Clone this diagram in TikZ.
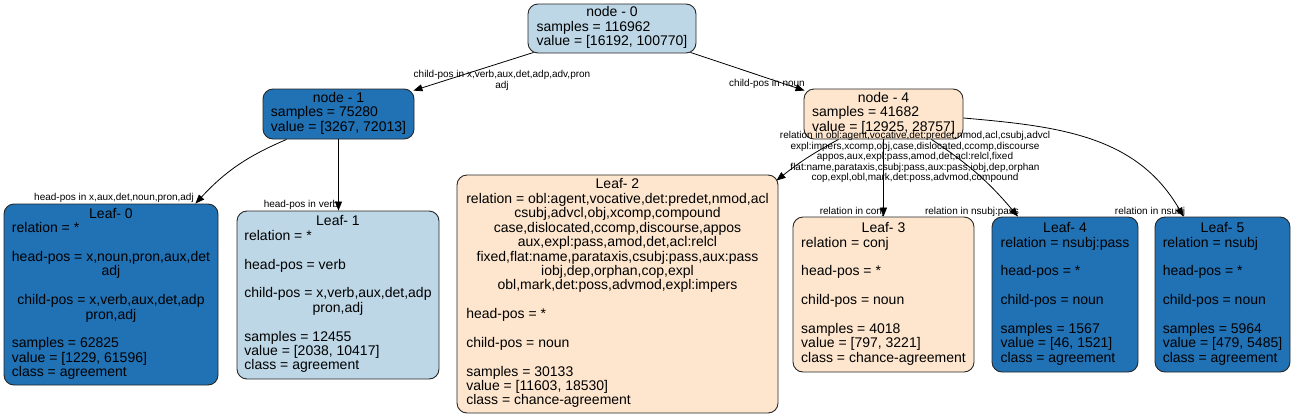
\documentclass[tikz,border=0pt]{standalone}
\usepackage{fontspec}
\setmainfont{Liberation Sans}
\usetikzlibrary{calc,shapes,arrows.meta}
\definecolor{dblue}{RGB}{33,113,181}
\definecolor{lblue}{RGB}{189,215,231}
\definecolor{lorange}{RGB}{254,230,206}
\newcommand{\centred}[1]{\multicolumn{1}{@{}c@{}}{#1}}

\begin{document}
\begin{tikzpicture}[x=1pt,y=-1pt,
	tnode/.style={rectangle, rounded corners=10pt, draw=black!85, line width=0.9pt, inner sep=0, font=\fontsize{14}{14.3}\selectfont},
	dnode/.style={tnode, fill=dblue},
	lnode/.style={tnode, fill=lblue},
	onode/.style={tnode, fill=lorange},
	elab/.style={inner sep=0, font=\fontsize{10}{10.5}\selectfont, align=center},
	elink/.style={black, line width=0.8pt, -{Triangle[length=9pt,width=7pt]}}]

		\useasboundingbox (0,0) rectangle (1295,418);

		%split nodes
		\node[lnode, minimum width=168pt, minimum height=49pt] at (612,28.5) (n0) {\begin{tabular}{@{}l@{}}\centred{node - 0}\\ samples = 116962\\ value = [16192, 100770]\end{tabular}};
		\node[dnode, minimum width=151pt, minimum height=50pt] at (338.5,114) (n1) {\begin{tabular}{@{}l@{}}\centred{node - 1}\\ samples = 75280\\ value = [3267, 72013]\end{tabular}};
		\node[onode, minimum width=159pt, minimum height=50pt] at (883.5,114) (n4) {\begin{tabular}{@{}l@{}}\centred{node - 4}\\ samples = 41682\\ value = [12925, 28757]\end{tabular}};

		%leaves
		\node[dnode, minimum width=214pt, minimum height=181pt] at (111,294.5) (L0) {\begin{tabular}{@{}l@{}}\centred{Leaf- 0}\\ relation = *\\ \\ head-pos = x,noun,pron,aux,det\\ \centred{adj}\\ \\ \centred{child-pos = x,verb,aux,det,adp}\\ \centred{pron,adj}\\ \\ samples = 62825\\ value = [1229, 61596]\\ class = agreement\end{tabular}};
		\node[lnode, minimum width=202pt, minimum height=168pt] at (338,295) (L1) {\begin{tabular}{@{}l@{}}\centred{Leaf- 1}\\ relation = *\\ \\ head-pos = verb\\ \\ child-pos = x,verb,aux,det,adp\\ \centred{pron,adj}\\ \\ samples = 12455\\ value = [2038, 10417]\\ class = agreement\end{tabular}};
		\node[onode, minimum width=321pt, minimum height=238pt] at (617.5,294) (L2) {\begin{tabular}{@{}l@{}}\centred{Leaf- 2}\\ relation = obl:agent,vocative,det:predet,nmod,acl\\ \centred{csubj,advcl,obj,xcomp,compound}\\ \centred{case,dislocated,ccomp,discourse,appos}\\ \centred{aux,expl:pass,amod,det,acl:relcl}\\ \centred{fixed,flat:name,parataxis,csubj:pass,aux:pass}\\ \centred{iobj,dep,orphan,cop,expl}\\ \centred{obl,mark,det:poss,advmod,expl:impers}\\ \\ head-pos = *\\ \\ child-pos = noun\\ \\ samples = 30133\\ value = [11603, 18530]\\ class = chance-agreement\end{tabular}};
		\node[onode, minimum width=181pt, minimum height=155pt] at (883.5,294.5) (L3) {\begin{tabular}{@{}l@{}}\centred{Leaf- 3}\\ relation = conj\\ \\ head-pos = *\\ \\ child-pos = noun\\ \\ samples = 4018\\ value = [797, 3221]\\ class = chance-agreement\end{tabular}};
		\node[dnode, minimum width=146pt, minimum height=155pt] at (1065,294.5) (L4) {\begin{tabular}{@{}l@{}}\centred{Leaf- 4}\\ relation = nsubj:pass\\ \\ head-pos = *\\ \\ child-pos = noun\\ \\ samples = 1567\\ value = [46, 1521]\\ class = agreement\end{tabular}};
		\node[dnode, minimum width=135pt, minimum height=155pt] at (1222.5,294.5) (L5) {\begin{tabular}{@{}l@{}}\centred{Leaf- 5}\\ relation = nsubj\\ \\ head-pos = *\\ \\ child-pos = noun\\ \\ samples = 5964\\ value = [479, 5485]\\ class = agreement\end{tabular}};

		%edge labels
		\node[elab] at (502,80.5) (lab01) {child-pos in x,verb,aux,det,adp,adv,pron\\adj};
		\node[elab] at (767,84) (lab04) {child-pos in noun};
		\node[elab] at (114,198) (lab10) {head-pos in x,aux,det,noun,pron,adj};
		\node[elab] at (301,205) (lab11) {head-pos in verb};
		\node[elab] at (915,157) (lab42) {relation in obl:agent,vocative,det:predet,nmod,acl,csubj,advcl\\expl:impers,xcomp,obj,case,dislocated,ccomp,discourse\\appos,aux,expl:pass,amod,det,acl:relcl,fixed\\flat:name,parataxis,csubj:pass,aux:pass,iobj,dep,orphan\\cop,expl,obl,mark,det:poss,advmod,compound};
		\node[elab] at (852,212) (lab43) {relation in conj};
		\node[elab] at (972,212) (lab44) {relation in nsubj:pass};
		\node[elab] at (1150,212) (lab45) {relation in nsubj};

		%edges
		\draw[elink] ([xshift=6pt,yshift=1pt]n0.south west) -- ([xshift=-1pt,yshift=-2pt]n1.north east);
		\draw[elink] ([xshift=-6pt,yshift=1pt]n0.south east) -- ([xshift=1pt,yshift=-2pt]n4.north west);
		\draw[elink] ([xshift=-52pt]n1.south) to[bend right=12] ([xshift=-23pt]L0.north east);
		\draw[elink] (n1.south) -- (n1.south |- L1.north);
		\draw[elink] ([xshift=-45pt]n4.south) to[bend right=5] ([xshift=-2pt,yshift=-6pt]L2.north east);
		\draw[elink] (n4.south) -- (L3.north);
		\draw[elink] ([xshift=48pt]n4.south) to[bend left=8] ([xshift=-47pt]L4.north);
		\draw[elink] ([yshift=-4pt]n4.east) to[out=-5,in=120] ([xshift=-39pt]L5.north);
	\end{tikzpicture}
\end{document}
